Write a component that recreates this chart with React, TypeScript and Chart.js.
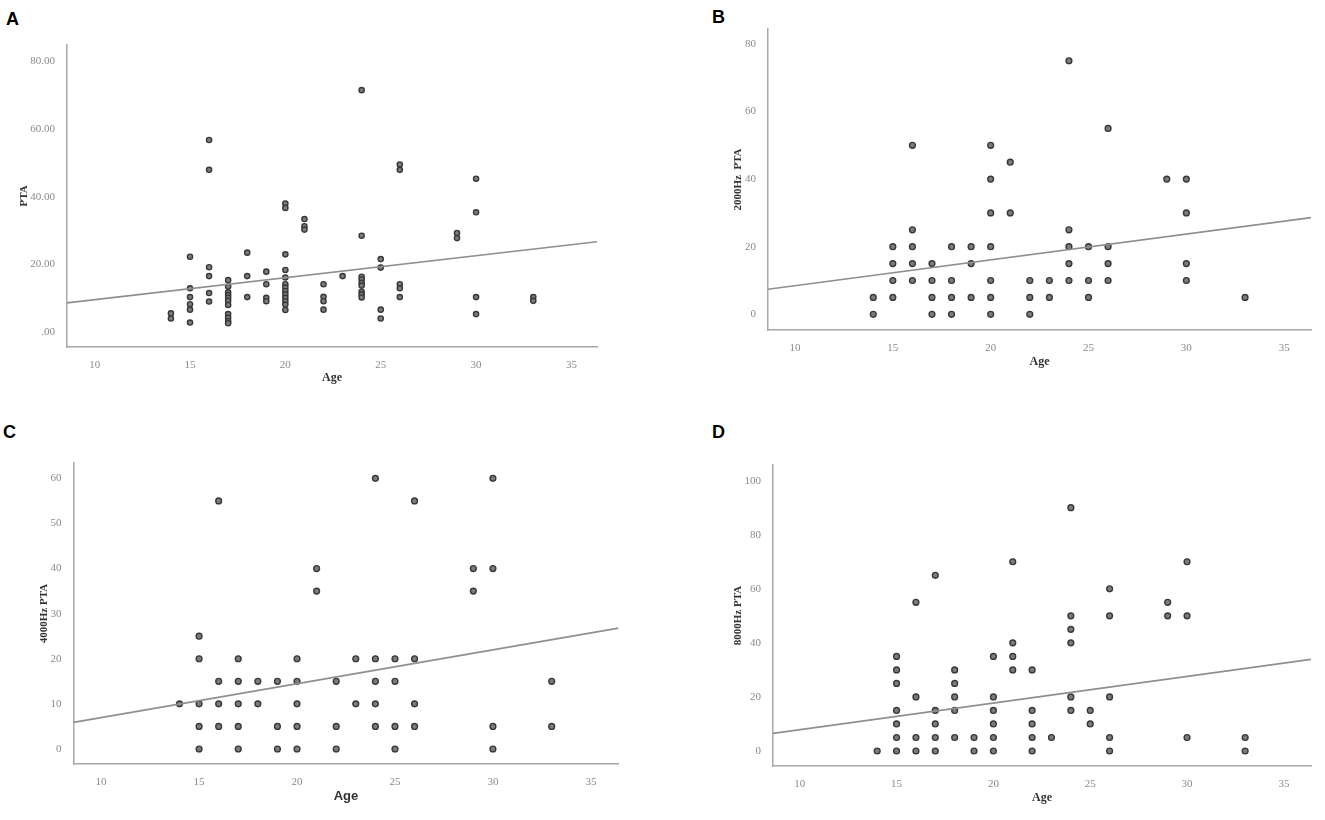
import { useEffect, useRef } from "react";
import { Chart, registerables } from "chart.js";

Chart.register(...registerables);

type Pt = [number, number];

// shared x axis (Age)
const ageTicks = [10, 15, 20, 25, 30, 35];

// A: PTA
const pointsA: Pt[] = [
  [14, 5.6], [14, 4.1],
  [15, 22.3], [15, 13.0], [15, 10.4], [15, 8.3], [15, 6.7], [15, 2.9],
  [16, 56.7], [16, 47.9], [16, 19.2], [16, 16.6], [16, 11.6], [16, 9.1],
  [17, 15.4], [17, 13.5], [17, 11.8], [17, 11.0], [17, 10.2], [17, 9.3], [17, 8.1], [17, 5.4], [17, 4.3], [17, 3.3], [17, 2.7],
  [18, 23.5], [18, 16.6], [18, 10.4],
  [19, 17.9], [19, 14.2], [19, 10.2], [19, 9.2],
  [20, 38.0], [20, 36.7], [20, 23.0], [20, 18.4], [20, 16.2], [20, 14.2], [20, 13.2], [20, 12.2], [20, 11.2], [20, 10.2], [20, 9.2], [20, 8.2], [20, 6.6],
  [21, 33.4], [21, 31.3], [21, 30.3],
  [22, 14.2], [22, 10.5], [22, 9.2], [22, 6.7],
  [23, 16.6],
  [24, 71.4], [24, 28.5], [24, 16.4], [24, 15.6], [24, 14.6], [24, 13.8], [24, 12.0], [24, 11.2], [24, 10.3],
  [25, 21.6], [25, 19.1], [25, 6.7], [25, 4.1],
  [26, 49.5], [26, 47.9], [26, 14.2], [26, 13.0], [26, 10.4],
  [29, 29.3], [29, 27.8],
  [30, 45.3], [30, 35.4], [30, 10.4], [30, 5.4],
  [33, 10.4], [33, 9.3],
];
const fitA: Pt[] = [[8.55, 8.7], [36.34, 26.7]];
const yTicksA = [0, 20, 40, 60, 80];
const yLabelsA = [".00", "20.00", "40.00", "60.00", "80.00"];

// B: 2000Hz PTA
const pointsB: Pt[] = [
  [14, 0], [14, 5],
  [15, 5], [15, 10], [15, 15], [15, 20],
  [16, 10], [16, 15], [16, 20], [16, 25], [16, 50],
  [17, 0], [17, 5], [17, 10], [17, 15],
  [18, 0], [18, 5], [18, 10], [18, 20],
  [19, 5], [19, 15], [19, 20],
  [20, 0], [20, 5], [20, 10], [20, 20], [20, 30], [20, 40], [20, 50],
  [21, 30], [21, 45],
  [22, 0], [22, 5], [22, 10],
  [23, 5], [23, 10],
  [24, 10], [24, 15], [24, 20], [24, 25], [24, 75],
  [25, 5], [25, 10], [25, 20],
  [26, 10], [26, 15], [26, 20], [26, 55],
  [29, 40],
  [30, 10], [30, 15], [30, 30], [30, 40],
  [33, 5],
];
const fitB: Pt[] = [[8.62, 7.4], [36.37, 28.6]];
const yTicksB = [0, 20, 40, 60, 80];

// C: 4000Hz PTA
const pointsC: Pt[] = [
  [14, 10],
  [15, 0], [15, 5], [15, 10], [15, 20], [15, 25],
  [16, 5], [16, 10], [16, 15], [16, 55],
  [17, 0], [17, 5], [17, 10], [17, 15], [17, 20],
  [18, 10], [18, 15],
  [19, 0], [19, 5], [19, 15],
  [20, 0], [20, 5], [20, 10], [20, 15], [20, 20],
  [21, 35], [21, 40],
  [22, 0], [22, 5], [22, 15],
  [23, 10], [23, 20],
  [24, 5], [24, 10], [24, 15], [24, 20], [24, 60],
  [25, 0], [25, 5], [25, 15], [25, 20],
  [26, 5], [26, 10], [26, 20], [26, 55],
  [29, 35], [29, 40],
  [30, 0], [30, 5], [30, 40], [30, 60],
  [33, 5], [33, 15],
];
const fitC: Pt[] = [[8.59, 5.9], [36.41, 26.8]];
const yTicksC = [0, 10, 20, 30, 40, 50, 60];

// D: 8000Hz PTA
const pointsD: Pt[] = [
  [14, 0],
  [15, 0], [15, 5], [15, 10], [15, 15], [15, 25], [15, 30], [15, 35],
  [16, 0], [16, 5], [16, 20], [16, 55],
  [17, 0], [17, 5], [17, 10], [17, 15], [17, 65],
  [18, 5], [18, 15], [18, 20], [18, 25], [18, 30],
  [19, 0], [19, 5],
  [20, 0], [20, 5], [20, 10], [20, 15], [20, 20], [20, 35],
  [21, 30], [21, 35], [21, 40], [21, 70],
  [22, 0], [22, 5], [22, 10], [22, 15], [22, 30],
  [23, 5],
  [24, 15], [24, 20], [24, 40], [24, 45], [24, 50], [24, 90],
  [25, 10], [25, 15],
  [26, 0], [26, 5], [26, 20], [26, 50], [26, 60],
  [29, 50], [29, 55],
  [30, 5], [30, 50], [30, 70],
  [33, 0], [33, 5],
];
const fitD: Pt[] = [[8.62, 6.5], [36.4, 33.9]];
const yTicksD = [0, 20, 40, 60, 80, 100];

const SERIF = "'Liberation Serif', 'DejaVu Serif', serif";
const SANS = "'Liberation Sans', Arial, sans-serif";

type PanelProps = {
  box: { left: number; top: number; width: number; height: number };
  points: Pt[];
  fit: Pt[];
  xRange: [number, number];
  yRange: [number, number];
  yTicks: number[];
  yLabels?: string[];
  yTitle: string;
  yTitlePad: number;
  yWidth: number;
  xHeight: number;
  xTitlePad: number;
  xTitleFamily: string;
  xTitleSize: number;
  padTop: number;
  padRight: number;
  dotRadius: number;
};

function Panel(p: PanelProps) {
  const canvasRef = useRef<HTMLCanvasElement>(null);
  const chartRef = useRef<Chart | null>(null);

  useEffect(() => {
    if (!canvasRef.current) return;
    if (chartRef.current) chartRef.current.destroy();
    const ctx = canvasRef.current.getContext("2d");
    if (!ctx) return;

    chartRef.current = new Chart(ctx, {
      type: "scatter",
      data: {
        datasets: [
          {
            type: "line",
            data: p.fit.map(([x, y]) => ({ x, y })),
            borderColor: "#8f8f8f",
            borderWidth: 1.6,
            pointRadius: 0,
            fill: false,
            order: 1,
          },
          {
            type: "scatter",
            data: p.points.map(([x, y]) => ({ x, y })),
            pointRadius: p.dotRadius,
            pointBackgroundColor: "#7c7c7c",
            pointBorderColor: "#383838",
            pointBorderWidth: 1.4,
            order: 2,
          },
        ] as any,
      },
      options: {
        animation: false,
        responsive: true,
        maintainAspectRatio: false,
        layout: { padding: { top: p.padTop, right: p.padRight, left: 0, bottom: 0 } },
        plugins: { legend: { display: false }, tooltip: { enabled: false } },
        scales: {
          x: {
            type: "linear",
            min: p.xRange[0],
            max: p.xRange[1],
            grid: { display: false },
            border: { display: true, color: "#a8a8a8", width: 1.5 },
            afterBuildTicks: (s: any) => {
              s.ticks = ageTicks.map((v) => ({ value: v }));
            },
            afterFit: (s: any) => {
              s.height = p.xHeight;
            },
            ticks: {
              color: "#8a8a8a",
              padding: 4,
              font: { family: SERIF, size: 11 },
              callback: (v: any) => String(v),
            },
            title: {
              display: true,
              text: "Age",
              color: "#333",
              font: { family: p.xTitleFamily, size: p.xTitleSize, weight: "bold" },
              padding: { top: 0, bottom: p.xTitlePad },
            },
          },
          y: {
            type: "linear",
            min: p.yRange[0],
            max: p.yRange[1],
            grid: { display: false },
            border: { display: true, color: "#a8a8a8", width: 1.5 },
            afterBuildTicks: (s: any) => {
              s.ticks = p.yTicks.map((v) => ({ value: v }));
            },
            afterFit: (s: any) => {
              s.width = p.yWidth;
            },
            ticks: {
              color: "#8a8a8a",
              padding: 4,
              font: { family: SERIF, size: 11 },
              callback: (v: any) => {
                const i = p.yTicks.indexOf(Number(v));
                return p.yLabels && i >= 0 ? p.yLabels[i] : String(v);
              },
            },
            title: {
              display: true,
              text: p.yTitle,
              color: "#333",
              font: { family: SERIF, size: 11, weight: "bold" },
              padding: { top: p.yTitlePad, bottom: 0 },
            },
          },
        },
      },
    });

    return () => {
      if (chartRef.current) {
        chartRef.current.destroy();
        chartRef.current = null;
      }
    };
  }, [p]);

  return (
    <div style={{ position: "absolute", ...p.box }}>
      <canvas ref={canvasRef} />
    </div>
  );
}

const letterStyle = {
  position: "absolute" as const,
  fontFamily: SANS,
  fontWeight: "bold" as const,
  fontSize: 18,
  lineHeight: "18px",
  color: "#000",
};

const panelA: PanelProps = {
  box: { left: 0, top: 30, width: 610, height: 370 },
  points: pointsA, fit: fitA,
  xRange: [8.55, 36.34], yRange: [-4.3, 84.7],
  yTicks: yTicksA, yLabels: yLabelsA, yTitle: "PTA",
  yTitlePad: 18, yWidth: 67, xHeight: 53, xTitlePad: 14.5,
  xTitleFamily: SERIF, xTitleSize: 12, padTop: 15, padRight: 13, dotRadius: 2.6,
};
const panelB: PanelProps = {
  box: { left: 660, top: 0, width: 665, height: 400 },
  points: pointsB, fit: fitB,
  xRange: [8.62, 36.37], yRange: [-4.65, 84.4],
  yTicks: yTicksB, yTitle: "2000Hz  PTA",
  yTitlePad: 72, yWidth: 108, xHeight: 70, xTitlePad: 31,
  xTitleFamily: SERIF, xTitleSize: 12, padTop: 29, padRight: 14, dotRadius: 2.9,
};
const panelC: PanelProps = {
  box: { left: 0, top: 410, width: 640, height: 410 },
  points: pointsC, fit: fitC,
  xRange: [8.59, 36.41], yRange: [-3.33, 63.4],
  yTicks: yTicksC, yTitle: "4000Hz PTA",
  yTitlePad: 38, yWidth: 73.5, xHeight: 56, xTitlePad: 15.5,
  xTitleFamily: SANS, xTitleSize: 13, padTop: 53, padRight: 21.5, dotRadius: 2.9,
};
const panelD: PanelProps = {
  box: { left: 660, top: 410, width: 665, height: 410 },
  points: pointsD, fit: fitD,
  xRange: [8.62, 36.4], yRange: [-5.55, 105.8],
  yTicks: yTicksD, yTitle: "8000Hz PTA",
  yTitlePad: 72, yWidth: 113, xHeight: 54, xTitlePad: 14.5,
  xTitleFamily: SERIF, xTitleSize: 12, padTop: 55, padRight: 14, dotRadius: 2.9,
};

export default function App() {
  return (
    <div
      style={{
        position: "fixed",
        left: 0,
        top: 0,
        width: 1325,
        height: 820,
        background: "#fff",
        overflow: "hidden",
      }}
    >
      <div style={{ ...letterStyle, left: 6, top: 10 }}>A</div>
      <div style={{ ...letterStyle, left: 712, top: 8 }}>B</div>
      <div style={{ ...letterStyle, left: 3, top: 423 }}>C</div>
      <div style={{ ...letterStyle, left: 712, top: 423 }}>D</div>
      <Panel {...panelA} />
      <Panel {...panelB} />
      <Panel {...panelC} />
      <Panel {...panelD} />
    </div>
  );
}
